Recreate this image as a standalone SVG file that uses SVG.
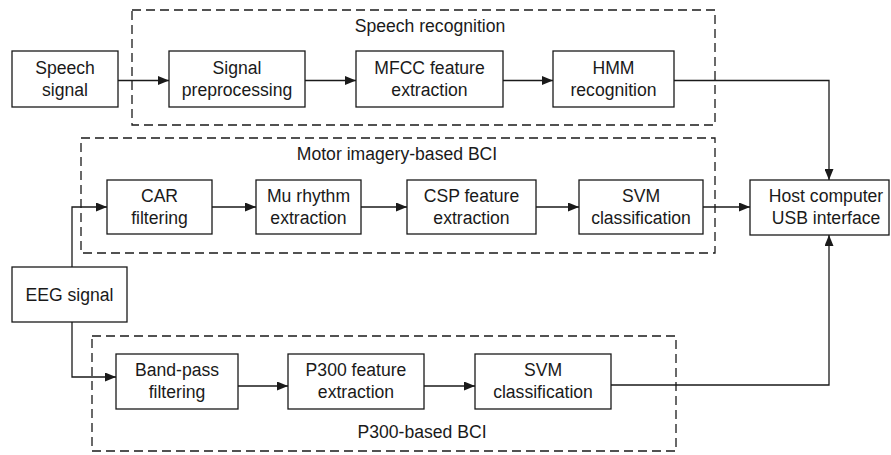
<svg xmlns="http://www.w3.org/2000/svg" width="891" height="455" viewBox="0 0 891 455">
<style>
.box{fill:#fff;stroke:#1a1a1a;stroke-width:1.3}
.grp{fill:none;stroke:#1a1a1a;stroke-width:1.3;stroke-dasharray:9 5}
.t{font-family:"Liberation Sans",Arial,sans-serif;font-size:17.6px;fill:#1a1a1a;text-anchor:middle}
.c{fill:none;stroke:#1a1a1a;stroke-width:1.3}
</style>
<defs>
<marker id="ah" viewBox="0 0 11 9" refX="11" refY="4.5" markerWidth="11" markerHeight="9" markerUnits="userSpaceOnUse" orient="auto">
<path d="M0,0 L11,4.5 L0,9 Z" fill="#1a1a1a"/>
</marker>
</defs>
<g id="group-speech">
<rect class="grp" x="132" y="10" width="583" height="115"/>
<text class="t" x="430" y="32">Speech recognition</text>
</g>
<g id="group-mi">
<rect class="grp" x="81" y="138" width="634" height="115"/>
<text class="t" x="397" y="160">Motor imagery-based BCI</text>
</g>
<g id="group-p300">
<rect class="grp" x="92" y="336" width="584" height="115"/>
<text class="t" x="422" y="438">P300-based BCI</text>
</g>
<g id="connectors">
<path class="c" d="M118,80.5 H169" marker-end="url(#ah)"/>
<path class="c" d="M305,80.5 H356" marker-end="url(#ah)"/>
<path class="c" d="M503,80.5 H553" marker-end="url(#ah)"/>
<path class="c" d="M674,80.5 H829 V180" marker-end="url(#ah)"/>
<path class="c" d="M72,267 V207 H107" marker-end="url(#ah)"/>
<path class="c" d="M212,207 H256" marker-end="url(#ah)"/>
<path class="c" d="M361,207 H407" marker-end="url(#ah)"/>
<path class="c" d="M536,207 H579" marker-end="url(#ah)"/>
<path class="c" d="M703,207 H750" marker-end="url(#ah)"/>
<path class="c" d="M72,322 V377 H116" marker-end="url(#ah)"/>
<path class="c" d="M238,386 H288" marker-end="url(#ah)"/>
<path class="c" d="M424,386 H475" marker-end="url(#ah)"/>
<path class="c" d="M611,385 H829 V235" marker-end="url(#ah)"/>
</g>
<g id="speech-signal">
<rect class="box" x="12" y="51" width="106" height="56"/>
<text class="t" x="65" y="74">Speech</text>
<text class="t" x="65" y="96">signal</text>
</g>
<g id="signal-preprocessing">
<rect class="box" x="169" y="51" width="136" height="56"/>
<text class="t" x="237" y="74">Signal</text>
<text class="t" x="237" y="96">preprocessing</text>
</g>
<g id="mfcc">
<rect class="box" x="356" y="51" width="147" height="56"/>
<text class="t" x="429.5" y="74">MFCC feature</text>
<text class="t" x="429.5" y="96">extraction</text>
</g>
<g id="hmm">
<rect class="box" x="553" y="51" width="121" height="56"/>
<text class="t" x="613.5" y="74">HMM</text>
<text class="t" x="613.5" y="96">recognition</text>
</g>
<g id="car">
<rect class="box" x="107" y="180" width="105" height="54"/>
<text class="t" x="159.5" y="202">CAR</text>
<text class="t" x="159.5" y="224">filtering</text>
</g>
<g id="mu">
<rect class="box" x="256" y="180" width="105" height="54"/>
<text class="t" x="308.5" y="202">Mu rhythm</text>
<text class="t" x="308.5" y="224">extraction</text>
</g>
<g id="csp">
<rect class="box" x="407" y="180" width="129" height="54"/>
<text class="t" x="471.5" y="202">CSP feature</text>
<text class="t" x="471.5" y="224">extraction</text>
</g>
<g id="svm1">
<rect class="box" x="579" y="180" width="124" height="54"/>
<text class="t" x="641" y="202">SVM</text>
<text class="t" x="641" y="224">classification</text>
</g>
<g id="host">
<rect class="box" x="750" y="180" width="139" height="55"/>
<text class="t" x="826" y="202">Host computer</text>
<text class="t" x="826" y="224">USB interface</text>
</g>
<g id="eeg">
<rect class="box" x="12" y="267" width="115" height="55"/>
<text class="t" x="69.5" y="301">EEG signal</text>
</g>
<g id="bandpass">
<rect class="box" x="116" y="354" width="122" height="55"/>
<text class="t" x="177" y="376">Band-pass</text>
<text class="t" x="177" y="398">filtering</text>
</g>
<g id="p300">
<rect class="box" x="288" y="354" width="136" height="55"/>
<text class="t" x="356" y="376">P300 feature</text>
<text class="t" x="356" y="398">extraction</text>
</g>
<g id="svm2">
<rect class="box" x="475" y="354" width="136" height="55"/>
<text class="t" x="543" y="376">SVM</text>
<text class="t" x="543" y="398">classification</text>
</g>
</svg>
